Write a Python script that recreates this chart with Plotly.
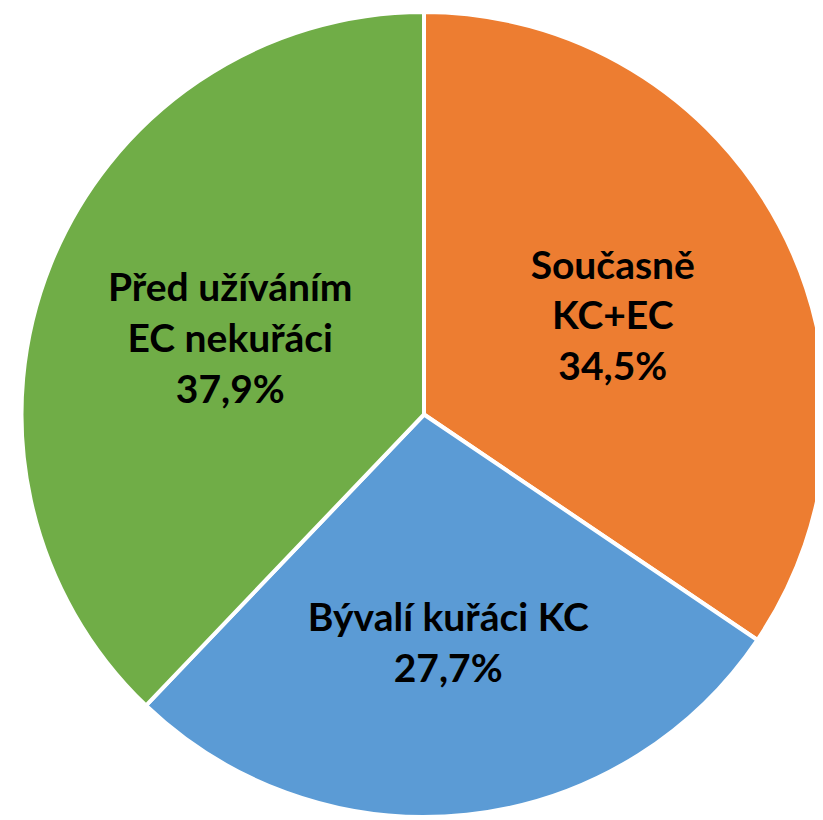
import plotly.graph_objects as go

labels = ['Současně<br>KC+EC', 'Bývalí kuřáci KC', 'Před užíváním<br>EC nekuřáci']
values = [34.5, 27.7, 37.9]
colors = ['#ED7D31', '#5B9BD5', '#70AD47']

texts = [f"{lab}<br>{str(v).replace('.', ',')}%" for lab, v in zip(labels, values)]

fig = go.Figure(
    go.Pie(
        labels=labels,
        values=values,
        text=texts,
        textinfo='text',
        textposition='inside',
        insidetextorientation='horizontal',
        sort=False,
        direction='clockwise',
        rotation=0,
        marker=dict(colors=colors, line=dict(color='white', width=4)),
        textfont=dict(family='Lato', size=39, color='black', weight='bold'),
        hoverinfo='skip',
        domain=dict(x=[9 / 823, 1], y=[11 / 820, 816 / 820]),
    )
)

fig.update_layout(
    width=823,
    height=820,
    margin=dict(l=0, r=0, t=0, b=0),
    showlegend=False,
    paper_bgcolor='white',
    uniformtext=dict(minsize=39, mode='show'),
)

fig.write_html("out.html")
